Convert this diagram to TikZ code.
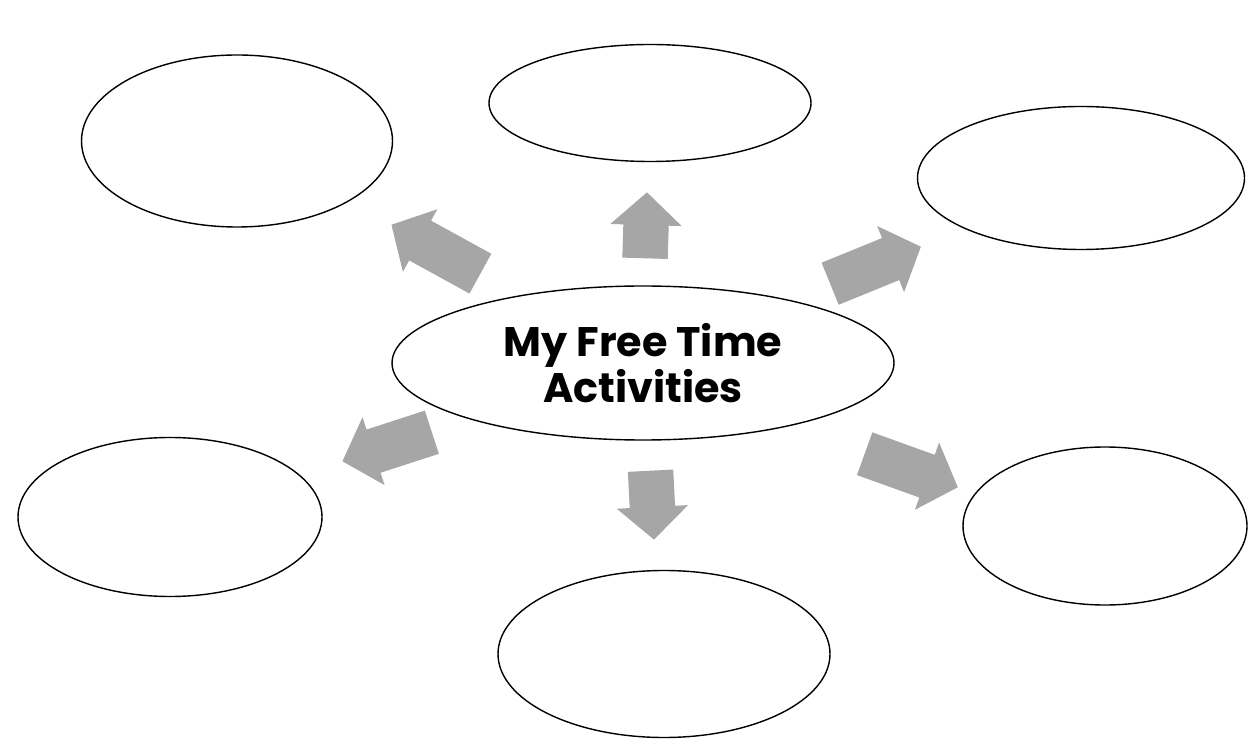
\documentclass[tikz,border=0pt]{standalone}
\usepackage{fontspec}
\setmainfont{Poppins}
\usetikzlibrary{shapes.geometric,shapes.arrows}
\definecolor{arrowgray}{RGB}{166,166,166}

\begin{document}
\begin{tikzpicture}[line width=0.8pt]
          \tikzstyle{bubble}=[ellipse,draw=black,fill=white,inner sep=0pt]
          \tikzstyle{pointer}=[single arrow,fill=arrowgray,draw=none,inner sep=0pt,anchor=tail,
                               text height=0.88cm,text depth=0pt,
                               single arrow head extend=0.26cm,single arrow tip angle=95]
          \useasboundingbox (0,0) rectangle (24.98,-14.82);

          \node[bubble,minimum width=10.04cm,minimum height=3.08cm,align=center,
                font=\bfseries\fontsize{23.5}{26.5}\selectfont] (centre) at (12.86,-7.26) {My Free Time\\[-0.5pt]Activities};
          \node[bubble,minimum width=6.44cm,minimum height=2.34cm] (top)      at (13.00,-2.06)  {};
          \node[bubble,minimum width=6.22cm,minimum height=3.44cm] (topleft)  at (4.74,-2.82)   {};
          \node[bubble,minimum width=6.54cm,minimum height=2.86cm] (topright) at (21.62,-3.56)  {};
          \node[bubble,minimum width=6.08cm,minimum height=3.18cm] (botleft)  at (3.40,-10.34)  {};
          \node[bubble,minimum width=5.68cm,minimum height=3.16cm] (botright) at (22.10,-10.52) {};
          \node[bubble,minimum width=6.64cm,minimum height=3.34cm] (bottom)   at (13.28,-13.08) {};

          % arrows placed by their tails
          \node[pointer,minimum height=1.32cm,rotate=88.3]  (totop)      at (12.90,-5.18) {};
          \node[pointer,minimum height=2.03cm,rotate=151.2] (totopleft)  at (9.62,-5.48)  {};
          \node[pointer,minimum height=1.96cm,rotate=22.2]  (totopright) at (16.59,-5.68) {};
          \node[pointer,minimum height=1.88cm,rotate=198]   (tobotleft)  at (8.65,-8.64)  {};
          \node[pointer,minimum height=1.38cm,rotate=-87.1] (tobottom)   at (13.01,-9.40) {};
          \node[pointer,minimum height=1.98cm,rotate=-19.8] (tobotright) at (17.28,-9.07) {};

\end{tikzpicture}
\end{document}
